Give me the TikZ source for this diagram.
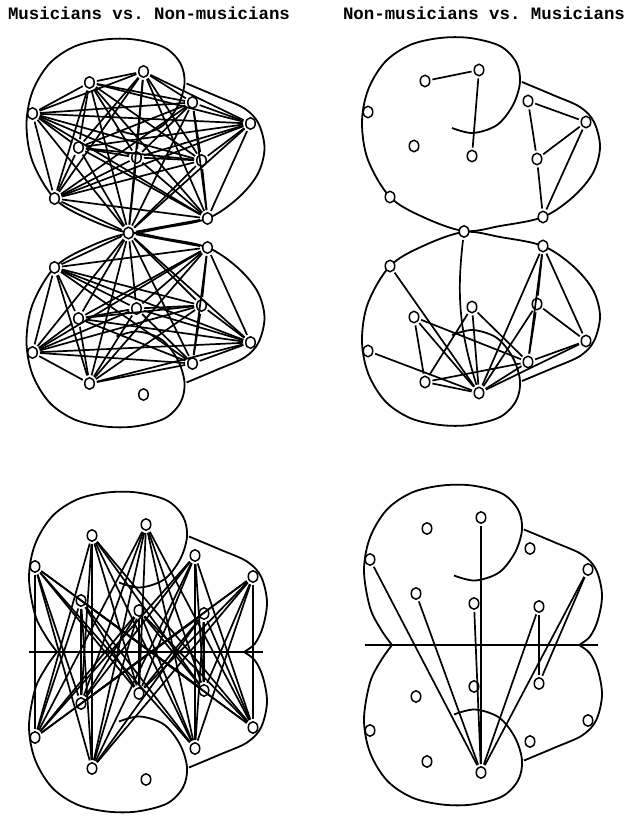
\documentclass[tikz,border=0pt]{standalone}
\usepackage{fontspec}
\setmonofont{Liberation Mono}
\usetikzlibrary{shapes.geometric}

% node places of one half
\newcommand{\corelist}{1/425/81, 2/479/70, 3/368/112, 4/414/146, 5/472/156, 6/528/101, 7/586/122, 8/537/159}
\newcommand{\rimlist}{9/390/197, 10/543/217}

% outline of one half, closed round the lower rim
\newcommand{\fullblob}{%
  \draw [blob] plot coordinates {(452,128) (473,133) (497,125) (513,105) (520,82) (516,62) (500,46) (470,38) (440,38) (410,45) (385,62) (368,90) (362,123) (368,160) (390,197) (423,217) (464,231) (500,226) (543,217) (573,197) (593,173) (600,147) (594,122) (580,107) (553,95) (522,82)};}
% outline of one half, cut at the middle line
\newcommand{\cutblob}{%
  \draw [blob] plot coordinates {(452,128) (473,133) (497,125) (513,105) (520,82) (516,62) (500,46) (470,38) (440,38) (410,45) (385,62) (368,90) (362,123) (368,160) (379,182) (390,197.5)};
  \draw [blob] plot coordinates {(577,197.5) (588,189) (596,172) (600,147) (594,122) (580,107) (553,95) (522,82)};}

\begin{document}
\begin{tikzpicture}[x=1pt, y=-1pt]
    \tikzstyle{nd} = [ellipse, draw, fill=white, line width=1.5pt, minimum width=9.5pt, minimum height=11.5pt, inner sep=0pt]
    \tikzstyle{lnk} = [line width=1.7pt, shorten >=2pt, shorten <=2pt]
    \tikzstyle{blob} = [line width=1.8pt, smooth, tension=0.55]
    \tikzstyle{ttl} = [font=\ttfamily\bfseries\fontsize{17.4}{20}\selectfont, inner sep=0pt, anchor=base]

    \path [fill=white] (0,0) rectangle (628,816);

    \node [ttl] (titleA) at (149,20) {Musicians vs. Non-musicians};
    \node [ttl] (titleB) at (484,20) {Non-musicians vs. Musicians};

    % top left panel
    \begin{scope}[shift={(-335.5,1.5)}]
        \fullblob
        \begin{scope}[shift={(0,463)}, yscale=-1] \fullblob \end{scope}
        \foreach \i/\x/\y in \corelist {
            \node [nd] (At\i) at (\x,\y) {};
            \node [nd] (Ab\i) at (\x,{463-\y}) {};
        }
        \foreach \i/\x/\y in \rimlist {
            \node [nd] (At\i) at (\x,\y) {};
            \node [nd] (Ab\i) at (\x,{463-\y}) {};
        }
        \node [nd] (Ak) at (464,231.5) {};
        \foreach \i in {1,...,10} {
            \draw [lnk] (At\i) -- (Ak);
            \foreach \j in {1,...,10} {\ifnum\j>\i \draw [lnk] (At\i) -- (At\j); \fi}
        }
        \foreach \i in {1,3,4,...,10} {
            \draw [lnk] (Ab\i) -- (Ak);
            \foreach \j in {1,3,4,...,10} {\ifnum\j>\i \draw [lnk] (Ab\i) -- (Ab\j); \fi}
        }
    \end{scope}

    % top right panel
    \begin{scope}
        \fullblob
        \begin{scope}[shift={(0,463)}, yscale=-1] \fullblob \end{scope}
        \foreach \i/\x/\y in \corelist {
            \node [nd] (Bt\i) at (\x,\y) {};
            \node [nd] (Bb\i) at (\x,{463-\y}) {};
        }
        \foreach \i/\x/\y in \rimlist {
            \node [nd] (Bt\i) at (\x,\y) {};
            \node [nd] (Bb\i) at (\x,{463-\y}) {};
        }
        \node [nd] (Bk) at (464,231.5) {};
        \foreach \a/\b in {Bt1/Bt2, Bt2/Bt5, Bt6/Bt7, Bt6/Bt8, Bt7/Bt8, Bt7/Bt10, Bt8/Bt10,
                Bb10/Bb2, Bb10/Bb6, Bb10/Bb8, Bb10/Bb7, Bb9/Bb2, Bb5/Bb1, Bb5/Bb2, Bb5/Bb6,
                Bb8/Bb6, Bb8/Bb7, Bb8/Bb2, Bb4/Bb1, Bb4/Bb2, Bb4/Bb6, Bb7/Bb6, Bb7/Bb2,
                Bb3/Bb2, Bb6/Bb1, Bb6/Bb2, Bb1/Bb2}
            \draw [lnk] (\a) -- (\b);
        \draw [lnk] (Bk) to [bend right=12] (Bb2);
    \end{scope}

    % bottom left panel
    \begin{scope}[shift={(-333,454.5)}]
        \cutblob
        \begin{scope}[shift={(0,395)}, yscale=-1] \cutblob \end{scope}
        \draw [blob] (362,197.5) -- (596,197.5);
        \foreach \i/\x/\y in \corelist {
            \node [nd] (Ct\i) at (\x,\y) {};
            \node [nd] (Cb\i) at (\x,{395-\y}) {};
        }
        \foreach \i in {1,...,8}
            \foreach \j in {1,3,4,...,8}
                \draw [lnk] (Ct\i) -- (Cb\j);
    \end{scope}

    % bottom right panel
    \begin{scope}[shift={(2,447.5)}]
        \cutblob
        \begin{scope}[shift={(0,395)}, yscale=-1] \cutblob \end{scope}
        \draw [blob] (363,197.5) -- (596,197.5);
        \foreach \i/\x/\y in \corelist {
            \node [nd] (Dt\i) at (\x,\y) {};
            \node [nd] (Db\i) at (\x,{395-\y}) {};
        }
        \foreach \a/\b in {Dt3/Db2, Dt4/Db2, Dt5/Db2, Dt2/Db2, Dt8/Db2, Dt7/Db2, Dt8/Db8, Dt7/Db8}
            \draw [lnk] (\a) -- (\b);
    \end{scope}
\end{tikzpicture}
\end{document}
